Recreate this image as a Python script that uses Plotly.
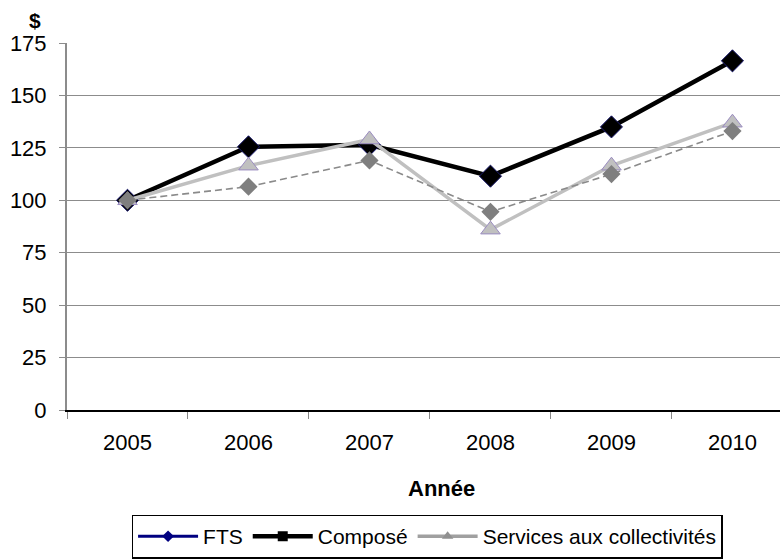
import plotly.graph_objects as go

# Index values by year (2005 = 100)
years = ["2005", "2006", "2007", "2008", "2009", "2010"]
compose = [100, 125.5, 126.5, 111.5, 135, 166.5]
services = [100, 116.5, 129, 86, 116.5, 137]
fts = [100, 106.5, 119, 94.5, 112.5, 133]
y_ticks = [0, 25, 50, 75, 100, 125, 150, 175]

FONT = "Liberation Sans, Arial, sans-serif"

fig = go.Figure()

# Data series
fig.add_trace(go.Scatter(
    x=years, y=compose, mode="lines+markers", showlegend=False,
    line=dict(color="#000000", width=4.5),
    marker=dict(symbol="diamond", size=17, color="#000000",
                line=dict(color="#1a1a6e", width=1)),
))
fig.add_trace(go.Scatter(
    x=years, y=services, mode="lines+markers", showlegend=False,
    line=dict(color="#c0c0c0", width=3.5),
    marker=dict(symbol="triangle-up", size=17, color="#c0c0c0",
                line=dict(color="#9a8cc0", width=1)),
))
fig.add_trace(go.Scatter(
    x=years, y=fts, mode="lines+markers", showlegend=False,
    line=dict(color="#8a8a8a", width=1.6, dash="7px,4px"),
    marker=dict(symbol="diamond", size=14, color="#7f7f7f"),
))

# Legend entries
fig.add_trace(go.Scatter(
    x=[None], y=[None], mode="lines+markers", name="FTS",
    line=dict(color="#000080", width=3),
    marker=dict(symbol="diamond", size=9, color="#000080"),
))
fig.add_trace(go.Scatter(
    x=[None], y=[None], mode="lines+markers", name="Composé",
    line=dict(color="#000000", width=4.5),
    marker=dict(symbol="square", size=10, color="#000000"),
))
fig.add_trace(go.Scatter(
    x=[None], y=[None], mode="lines+markers", name="Services aux collectivités",
    line=dict(color="#a0a0a0", width=3.5),
    marker=dict(symbol="triangle-up", size=10, color="#909090"),
))

fig.update_layout(
    width=780, height=559,
    margin=dict(l=67, r=0, t=43, b=147),
    paper_bgcolor="white", plot_bgcolor="white",
    font=dict(family=FONT, size=22, color="#000000"),
    xaxis=dict(
        type="category", range=[-0.5, 5.393],
        showgrid=False, showline=True, linecolor="#000000", linewidth=2,
        ticks="outside", tickson="boundaries", ticklen=7, tickcolor="#888888",
        tickwidth=1, ticklabelstandoff=12, zeroline=False,
    ),
    yaxis=dict(
        range=[0, 175], tickvals=y_ticks,
        showgrid=True, gridcolor="#8c8c8c", gridwidth=1,
        showline=True, linecolor="#8c8c8c", linewidth=2,
        ticks="outside", ticklen=6, tickcolor="#8c8c8c",
        ticklabelstandoff=8, zeroline=False,
    ),
    legend=dict(
        orientation="h", x=0.505, xanchor="center", y=-0.285, yanchor="top",
        bordercolor="#000000", borderwidth=1.5, bgcolor="white",
        font=dict(family=FONT, size=21), itemwidth=60,
        tracegroupgap=0,
    ),
    annotations=[
        dict(text="<b>Année</b>", xref="paper", yref="paper",
             x=(441 - 67) / 713, y=(412 - 491) / 369,
             xanchor="center", yanchor="middle", showarrow=False,
             font=dict(family=FONT, size=22)),
        dict(text="<b>$</b>", xref="paper", yref="paper",
             x=(35 - 67) / 713, y=(412 - 20) / 369,
             xanchor="center", yanchor="middle", showarrow=False,
             font=dict(family=FONT, size=21)),
    ],
)

fig.write_html("out.html")
